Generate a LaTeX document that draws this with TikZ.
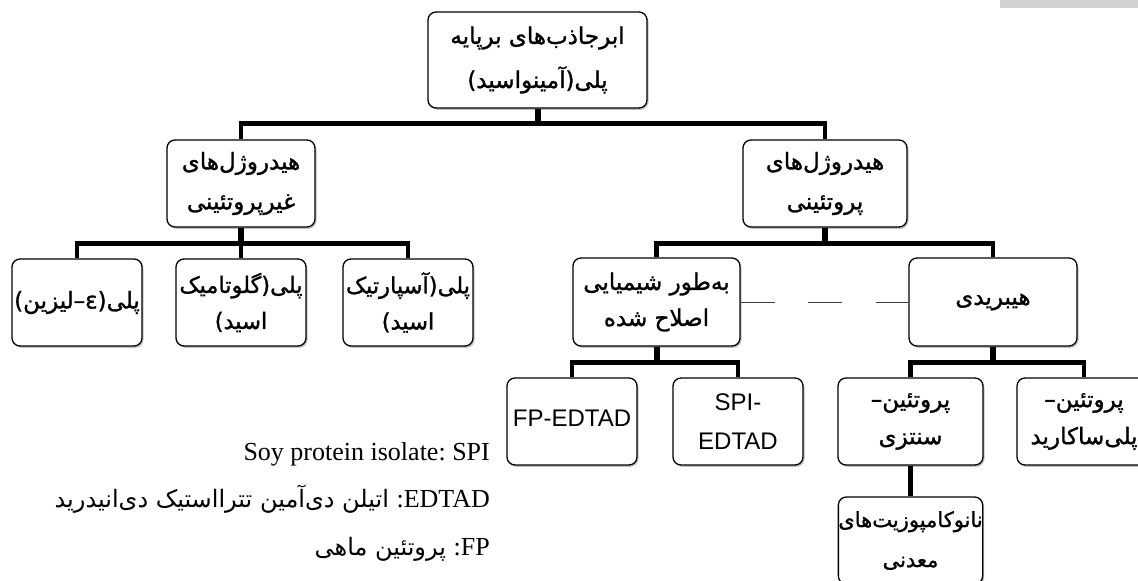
\documentclass[tikz,border=0pt]{standalone}
\usepackage{fontspec}
\setmainfont{Liberation Serif}
\newfontfamily\farsi[Script=Arabic]{DejaVu Sans}
\newfontfamily\farsib[Script=Arabic,FakeBold=1.2]{DejaVu Sans}
\newfontfamily\arialf{Liberation Sans}
\TeXXeTstate=1
\usetikzlibrary{calc,shadows}
\newcommand{\fa}[1]{\beginR #1\endR}
\begin{document}
\frenchspacing
\begin{tikzpicture}[x=1pt,y=-1pt,
  box/.style={draw=black, line width=1.3pt, rounded corners=8pt, fill=white,
    minimum width=#1, minimum height=87pt, inner sep=0pt, align=center,
    font=\farsib\fontsize{23}{40}\selectfont,
    drop shadow={shadow xshift=1.5pt, shadow yshift=-1.8pt, opacity=0.35, fill=black!70}},
  latinbox/.style={font=\arialf\fontsize{24}{39}\selectfont},
  bar/.style={line width=4.5pt, line join=miter, draw=black},
  stub/.style={line width=6pt, draw=black},
  dashline/.style={line width=1pt, draw=black!75, dash pattern=on 34pt off 33.5pt},
  legend/.style={anchor=base east, inner sep=0pt}
]
\useasboundingbox (0,0) rectangle (1138,581);
\clip (0,0) rectangle (1138,581);
\fill[black!18] (1000,0) rectangle (1138,8);

% nodes
\node[box=219pt, minimum height=96pt, font=\farsib\fontsize{23}{44}\selectfont] (top) at (537.5,60)
  {\fa{ابرجاذب^^^^200cهای برپایه}\\\fa{پلی(آمینواسید)}};
\node[box=148pt] (nonprot) at (241,183.5) {\fa{هیدروژل^^^^200cهای}\\\fa{غیرپروتئینی}};
\node[box=164pt] (prot) at (825,183.5) {\fa{هیدروژل^^^^200cهای}\\\fa{پروتئینی}};

\node[box=130pt] (lys) at (77,302.5) {\fa{پلی(ε–لیزین)}};
\node[box=130pt, font=\farsib\fontsize{22.5}{36}\selectfont] (glu) at (241,302.5) {\fa{پلی(گلوتامیک}\\\fa{اسید)}};
\node[box=130pt, font=\farsib\fontsize{22.5}{36}\selectfont] (asp) at (408,302.5) {\fa{پلی(آسپارتیک}\\\fa{اسید)}};

\node[box=167pt, minimum height=88pt, font=\farsib\fontsize{23}{36}\selectfont] (chem) at (656.5,302) {\fa{به^^^^200cطور شیمیایی}\\\fa{اصلاح شده}};
\node[box=168pt, minimum height=88pt] (hyb) at (993,302) {\fa{هیبریدی}};

\node[box=130pt, latinbox, text height=17pt, text depth=8pt] (fp) at (572,421.5) {FP-EDTAD};
\node[box=130pt, latinbox] (spi) at (738,421.5) {SPI-\\EDTAD};
\node[box=145pt, font=\farsib\fontsize{23}{37}\selectfont] (syn) at (910.5,421.5) {\fa{پروتئین–}\\\fa{سنتزی}};
\node[box=134pt, font=\farsib\fontsize{23}{37}\selectfont] (poly) at (1084,421.5) {\fa{پروتئین–}\\\fa{پلی^^^^200cساکارید}};
\node[box=144pt, font=\farsib\fontsize{21}{40}\selectfont] (nano) at (910.5,540.5) {\fa{نانوکامپوزیت^^^^200cهای}\\\fa{معدنی}};

% connectors
\draw[stub] (top.south) -- ++(0,15) coordinate (t1);
\draw[bar] (t1) -| (nonprot.north);
\draw[bar] (t1) -| (prot.north);

\draw[stub] (nonprot.south) -- ++(0,16) coordinate (n1);
\draw[bar] (n1) -| (lys.north);
\draw[bar] (n1) -- (glu.north);
\draw[bar] (n1) -| (asp.north);

\draw[stub] (prot.south) -- ++(0,16) coordinate (p1);
\draw[bar] (p1) -| (chem.north);
\draw[bar] (p1) -| (hyb.north);

\draw[stub] (chem.south) -- ++(0,16) coordinate (c1);
\draw[bar] (c1) -| (fp.north);
\draw[bar] (c1) -| (spi.north);

\draw[stub] (hyb.south) -- ++(0,16) coordinate (h1);
\draw[bar] (h1) -| (syn.north);
\draw[bar] (h1) -| (poly.north);

\draw[bar] (syn.south) -- (nano.north);

\draw[dashline] (chem.east) -- (hyb.west);

% legend
\node[legend, font=\fontsize{26}{30}\selectfont] (l1) at (490,460) {Soy protein isolate: SPI};
\node[legend, font=\farsi\fontsize{24}{30}\selectfont] (l2) at (490,507)
  {\beginR\beginL{\rmfamily\fontsize{26}{30}\selectfont EDTAD}\endL{\rmfamily\fontsize{26}{30}\selectfont:} اتیلن دی^^^^200cآمین تترااستیک دی^^^^200cانیدرید\endR};
\node[legend, font=\farsi\fontsize{24}{30}\selectfont] (l3) at (490,555)
  {\beginR\beginL{\rmfamily\fontsize{26}{30}\selectfont FP}\endL{\rmfamily\fontsize{26}{30}\selectfont:} پروتئین ماهی\endR};
\end{tikzpicture}
\end{document}
